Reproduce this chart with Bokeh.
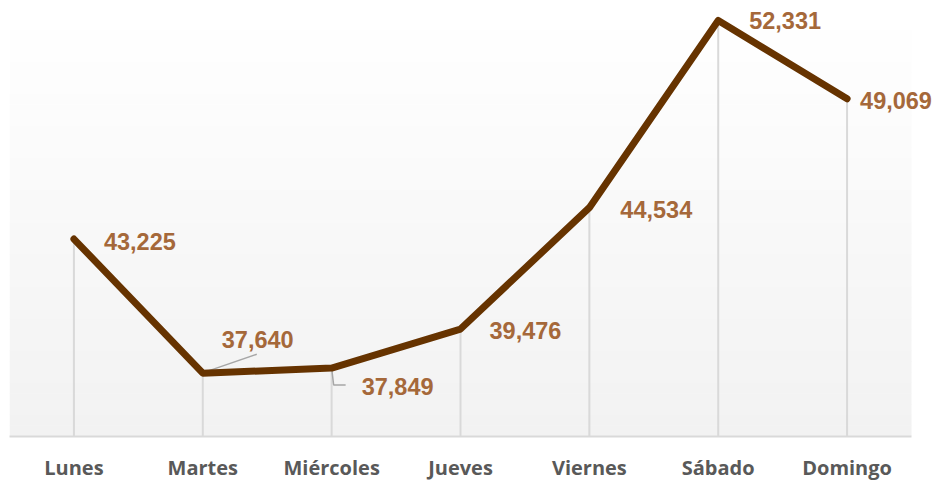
from bokeh.plotting import figure
from bokeh.models import Range1d, ColumnDataSource, LabelSet, BoxAnnotation
from bokeh.core.properties import value
from bokeh.embed import file_html
from bokeh.resources import INLINE

days = ["Lunes", "Martes", "Miércoles", "Jueves", "Viernes", "Sábado", "Domingo"]
visits = [43225, 37640, 37849, 39476, 44534, 52331, 49069]
labels = ["43,225", "37,640", "37,849", "39,476", "44,534", "52,331", "49,069"]

Y0, Y1 = 35000, 52830
X0, XB = -0.5, 6.5       # plot area (category bands)
W, H = 933, 483
FRAME_W, FRAME_H = 924, 431
PX = (XB - X0) / 902
X1 = X0 + FRAME_W * PX

p = figure(width=W, height=H, output_backend="svg", toolbar_location=None,
           x_range=Range1d(X0, X1), y_range=Range1d(Y0, Y1),
           min_border_left=9, min_border_right=0, min_border_top=8, min_border_bottom=44)
p.outline_line_color = None
p.xgrid.visible = False
p.ygrid.visible = False
p.yaxis.visible = False
p.background_fill_color = "#ffffff"
p.border_fill_color = "#ffffff"

# gradient background
N = 40
step = (Y1 - Y0) / N
for i in range(N):
    t = i / (N - 1)
    c = int(round(0xf2 + (0xff - 0xf2) * t))
    col = "#%02x%02x%02x" % (c, c, c)
    p.add_layout(BoxAnnotation(bottom=Y0 + i * step, top=Y0 + (i + 1) * step + step * 0.05,
                               right=XB, fill_color=col, fill_alpha=1.0, line_color=None,
                               level="underlay"))

xs = list(range(len(days)))
src = ColumnDataSource(dict(x=xs, y=visits, lab=labels,
                            xo=[30, 19, 30, 29, 31, 31, 13],
                            yo=[-2, 34, -18, -1, -2, 0, -2]))

# drop lines
p.segment(x0=xs, y0=visits, x1=xs, y1=[Y0] * len(xs), line_color="#d9d9d9", line_width=2)

# leader lines (pixel offsets converted to data units)
py = (Y1 - Y0) / FRAME_H
p.line([1 + 2 * PX, 1 + 54 * PX], [visits[1] + 1 * py, visits[1] + 19 * py], line_color="#a6a6a6", line_width=1.5)
p.line([2, 2 + 2 * PX, 2 + 14 * PX], [visits[2], visits[2] - 17 * py, visits[2] - 17 * py],
       line_color="#a6a6a6", line_width=1.5)

p.line("x", "y", source=src, line_color="#663300", line_width=7, line_join="round", line_cap="round")

p.add_layout(LabelSet(x="x", y="y", text="lab", source=src, x_offset="xo", y_offset="yo",
                      text_color="#a5683a", text_font=value("Liberation Sans"), text_font_style="bold",
                      text_font_size="23.5px", text_baseline="middle", text_align="left"))

ax = p.xaxis[0]
ax.ticker = xs
ax.bounds = (X0, XB)
ax.major_label_overrides = {i: d for i, d in enumerate(days)}
ax.axis_line_color = "#d9d9d9"
ax.axis_line_width = 2
ax.major_tick_line_color = None
ax.minor_tick_line_color = None
ax.major_tick_out = 0
ax.major_tick_in = 0
ax.major_label_standoff = 17
ax.major_label_text_font = "Open Sans"
ax.major_label_text_font_style = "bold"
ax.major_label_text_font_size = "20px"
ax.major_label_text_color = "#595959"

open("out.html", "w").write(file_html(p, INLINE))
